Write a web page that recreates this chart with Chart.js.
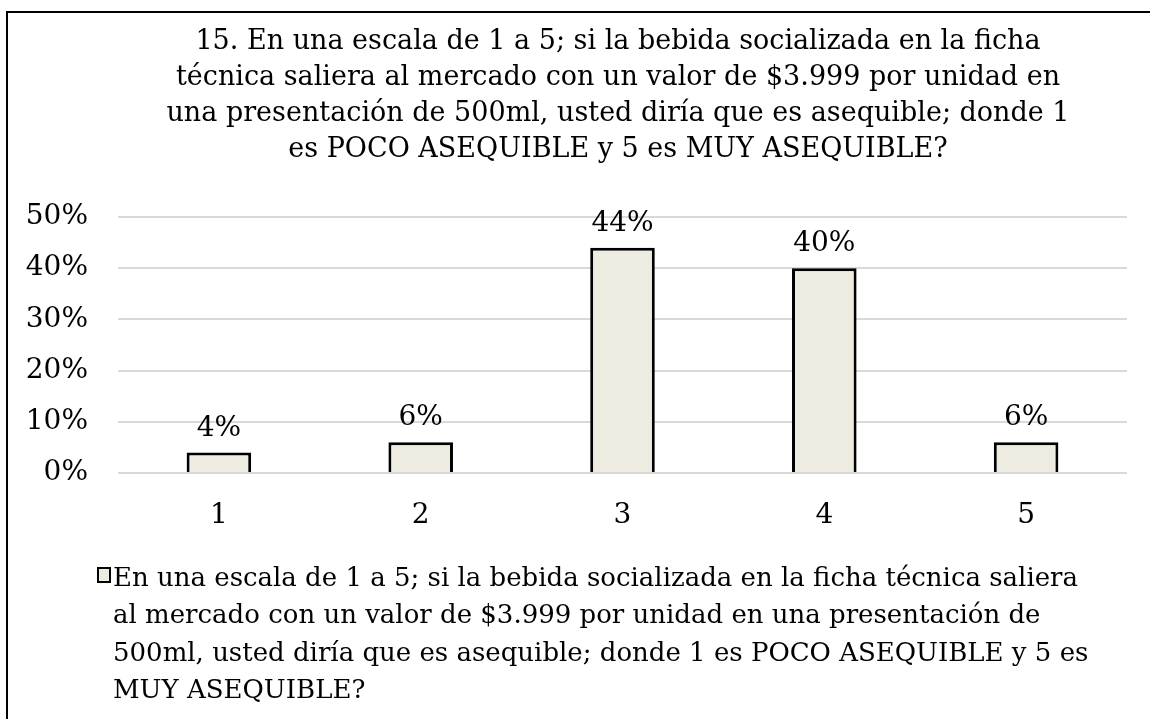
<!DOCTYPE html>
<html>
<head>
<meta charset="utf-8">
<script src="https://cdn.jsdelivr.net/npm/chart.js@4.4.1/dist/chart.umd.min.js"></script>
<style>
  html, body { margin: 0; padding: 0; background: #fff; width: 1150px; height: 719px; overflow: hidden; }
  #frame { position: absolute; left: 6px; top: 11px; width: 1300px; height: 900px; border: 2px solid #000; box-sizing: border-box; }
  #wrap { position: absolute; left: 0; top: 0; width: 1150px; height: 719px; }
</style>
</head>
<body>
<div id="frame"></div>
<div id="wrap"><canvas id="c" width="1150" height="719"></canvas></div>
<script>
const categories = ['1', '2', '3', '4', '5'];
const values = [4, 6, 44, 40, 6];
const yTicks = [0, 10, 20, 30, 40, 50];
const titleLines = [
  '15. En una escala de 1 a 5; si la bebida socializada en la ficha',
  'técnica saliera al mercado con un valor de $3.999 por unidad en',
  'una presentación de 500ml, usted diría que es asequible; donde 1',
  'es POCO ASEQUIBLE y 5 es MUY ASEQUIBLE?'
];
const legendLines = [
  'En una escala de 1 a 5; si la bebida socializada en la ficha técnica saliera',
  'al mercado con un valor de $3.999 por unidad en una presentación de',
  '500ml, usted diría que es asequible; donde 1 es POCO ASEQUIBLE y 5 es',
  'MUY ASEQUIBLE?'
];

const FONT = '"DejaVu Serif", "Liberation Serif", serif';
const BAR_FILL = '#EEECE1';

const titlePlugin = {
  id: 'customTitle',
  afterDraw(chart) {
    const ctx = chart.ctx;
    ctx.save();
    ctx.fillStyle = '#000';
    ctx.font = '27px ' + FONT;
    ctx.textAlign = 'center';
    ctx.textBaseline = 'alphabetic';
    titleLines.forEach((t, i) => ctx.fillText(t, 618, 49 + i * 36));
    ctx.restore();
  }
};

const dataLabelPlugin = {
  id: 'dataLabels',
  afterDatasetsDraw(chart) {
    const ctx = chart.ctx;
    const meta = chart.getDatasetMeta(0);
    ctx.save();
    ctx.fillStyle = '#000';
    ctx.font = '28px ' + FONT;
    ctx.textAlign = 'center';
    ctx.textBaseline = 'alphabetic';
    meta.data.forEach((bar, i) => {
      ctx.fillText(values[i] + '%', bar.x, bar.y - 17);
    });
    ctx.restore();
  }
};

const legendPlugin = {
  id: 'customLegend',
  afterDraw(chart) {
    const ctx = chart.ctx;
    ctx.save();
    ctx.fillStyle = BAR_FILL;
    ctx.fillRect(98, 568, 12, 14);
    ctx.strokeStyle = '#000';
    ctx.lineWidth = 2;
    ctx.strokeRect(98, 568, 12, 14);
    ctx.fillStyle = '#000';
    ctx.font = '26px ' + FONT;
    ctx.textAlign = 'left';
    ctx.textBaseline = 'alphabetic';
    legendLines.forEach((t, i) => ctx.fillText(t, 113, 586 + i * 37.3));
    ctx.restore();
  }
};

new Chart(document.getElementById('c'), {
  type: 'bar',
  data: {
    labels: categories,
    datasets: [{
      label: legendLines.join(' '),
      data: values,
      backgroundColor: BAR_FILL,
      borderColor: '#000',
      borderWidth: 3,
      borderSkipped: 'start',
      barPercentage: 0.32,
      categoryPercentage: 1.0
    }]
  },
  options: {
    responsive: false,
    animation: false,
    devicePixelRatio: 1,
    layout: { padding: { left: 0, right: 23, top: 217, bottom: 176 } },
    plugins: {
      legend: { display: false },
      title: { display: false },
      tooltip: { enabled: false }
    },
    scales: {
      x: {
        grid: { display: false, drawTicks: false },
        border: { display: false },
        ticks: { color: '#000', font: { family: FONT, size: 28 }, padding: 26 },
        afterFit(scale) { scale.height = 70; }
      },
      y: {
        min: 0, max: 50,
        afterBuildTicks(scale) { scale.ticks = yTicks.map(v => ({ value: v })); },
        grid: { color: '#d9d9d9', lineWidth: 2, drawTicks: false },
        border: { display: false },
        ticks: {
          color: '#000', font: { family: FONT, size: 28 }, padding: 30,
          callback: v => v + '%'
        },
        afterFit(scale) { scale.width = 118; }
      }
    }
  },
  plugins: [titlePlugin, dataLabelPlugin, legendPlugin]
});
</script>
</body>
</html>
